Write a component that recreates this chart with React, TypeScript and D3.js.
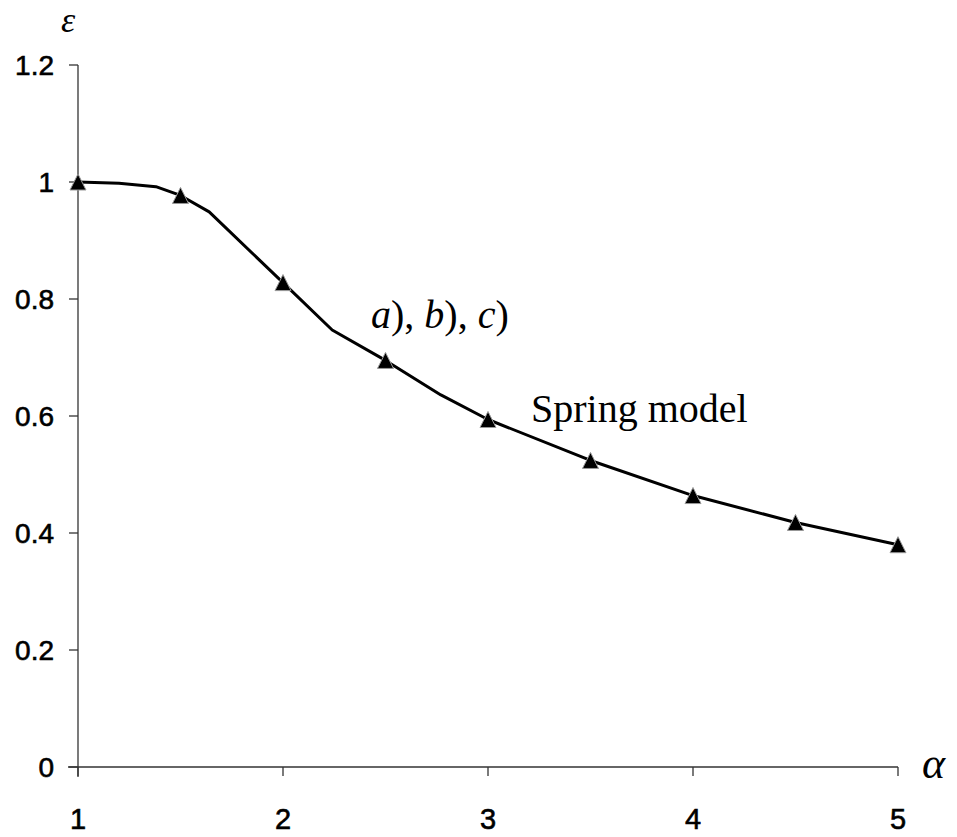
import React from "react";
import * as d3 from "d3";

const markerAlpha = [1, 1.5, 2, 2.5, 3, 3.5, 4, 4.5, 5];
const markerEps = [1.0, 0.977, 0.828, 0.695, 0.594, 0.524, 0.464, 0.418, 0.38];

const lineAlpha = [1, 1.2, 1.38, 1.5, 1.64, 2, 2.24, 2.5, 2.77, 3, 3.5, 4, 4.5, 5];
const lineEps = [1.0, 0.998, 0.992, 0.977, 0.949, 0.828, 0.747, 0.695, 0.636, 0.594, 0.524, 0.464, 0.418, 0.38];

const xTicks = [1, 2, 3, 4, 5];
const yTicks = [0, 0.2, 0.4, 0.6, 0.8, 1, 1.2];

const W = 957;
const H = 837;

export default function App() {
  const x = d3.scaleLinear().domain([1, 5]).range([78, 898]);
  const y = d3.scaleLinear().domain([0, 1.2]).range([767, 65]);

  const lineData = lineAlpha.map((a, i) => [a, lineEps[i]] as [number, number]);
  const linePath = d3
    .line<[number, number]>()
    .x((d) => x(d[0]))
    .y((d) => y(d[1]))
    .curve(d3.curveLinear)(lineData);

  const tri = (cx: number, cy: number) => {
    const hw = 8;
    const hh = 8;
    return `M${cx},${cy - hh}L${cx + hw},${cy + hh}L${cx - hw},${cy + hh}Z`;
  };

  const numFont = "Liberation Sans, Arial, sans-serif";
  const serif = "Liberation Serif, Times New Roman, serif";

  return (
    <svg
      width={W}
      height={H}
      style={{ position: "absolute", left: 0, top: 0, background: "#fff" }}
    >
      <rect x={0} y={0} width={W} height={H} fill="#fff" />
      {/* y axis */}
      <line x1={x(1)} x2={x(1)} y1={y(1.2)} y2={y(0) + 10} stroke="#333" strokeWidth={1.3} />
      {yTicks.map((t) => (
        <g key={"y" + t}>
          <line x1={x(1) - 9} x2={x(1)} y1={y(t)} y2={y(t)} stroke="#333" strokeWidth={1.3} />
          <text
            x={54}
            y={y(t) + 10}
            textAnchor="end"
            fontFamily={numFont}
            fontSize={28}
            fill="#000"
            stroke="#000"
            strokeWidth={0.6}
          >
            {String(t)}
          </text>
        </g>
      ))}
      {/* x axis */}
      <line x1={x(1) - 10} x2={x(5)} y1={y(0)} y2={y(0)} stroke="#333" strokeWidth={1.3} />
      {xTicks.map((t) => (
        <g key={"x" + t}>
          <line x1={x(t)} x2={x(t)} y1={y(0)} y2={y(0) + 9} stroke="#333" strokeWidth={1.3} />
          <text
            x={x(t)}
            y={829}
            textAnchor="middle"
            fontFamily={numFont}
            fontSize={29}
            fill="#000"
            stroke="#000"
            strokeWidth={0.6}
          >
            {String(t)}
          </text>
        </g>
      ))}
      {/* axis titles */}
      <text x={61} y={32} fontFamily={serif} fontStyle="italic" fontSize={36} fill="#000">
        ε
      </text>
      <text x={922} y={778} fontFamily={serif} fontStyle="italic" fontSize={44} fill="#000">
        α
      </text>
      {/* curve */}
      <path d={linePath || ""} fill="none" stroke="#000" strokeWidth={3} strokeLinejoin="round" />
      {markerAlpha.map((a, i) => (
        <path
          key={"m" + i}
          d={tri(x(a), y(markerEps[i]))}
          fill="#000"
          stroke="#999"
          strokeWidth={1}
        />
      ))}
      {/* annotations */}
      <text x={371} y={328} fontFamily={serif} fontSize={40} fill="#000">
        <tspan fontStyle="italic">a</tspan>
        <tspan>), </tspan>
        <tspan fontStyle="italic">b</tspan>
        <tspan>), </tspan>
        <tspan fontStyle="italic">c</tspan>
        <tspan>)</tspan>
      </text>
      <text x={531} y={422} fontFamily={serif} fontSize={40} fill="#000">
        Spring model
      </text>
    </svg>
  );
}
